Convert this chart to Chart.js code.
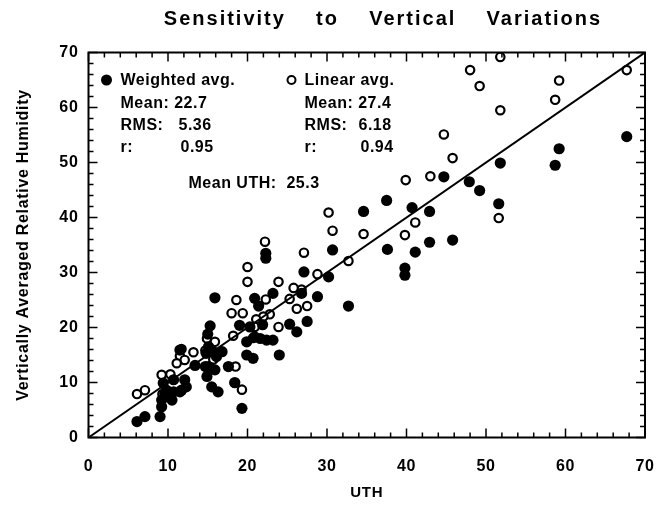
<!DOCTYPE html>
<html><head><meta charset="utf-8">
<script src="https://cdn.jsdelivr.net/npm/chart.js@4.4.1/dist/chart.umd.min.js"></script>
<style>html,body{margin:0;padding:0;background:#fff}#wrap{width:659px;height:506px}</style>
</head><body><div id="wrap"><canvas id="c" width="659" height="506"></canvas></div>
<script>
// UTH (x) and vertically averaged RH (y) — weighted average (filled circles)
const weightedUTH = [67.7,59.2,51.8,58.7,44.7,47.9,49.2,37.5,34.6,40.7,42.9,51.6,42.9,45.8,30.7,37.6,41.1,27.1,30.2,39.8,39.8,26.8,28.8,32.7,27.5,22.3,22.3,23.2,20.9,15.9,21.4,25.3,26.2,24.0,19.9,20.7,15.3,19.0,20.3,21.9,21.6,22.4,23.2,19.9,20.9,14.8,15.7,16.1,16.8,15.1,15.0,13.4,14.7,15.1,15.9,17.6,14.9,12.1,10.7,11.5,10.5,15.5,16.3,18.4,19.3,6.1,7.1,9.0,9.2,9.2,9.6,9.8,10.7,11.7,12.3,9.4,11.5];
const weightedRH  = [54.7,52.5,49.9,49.5,47.4,46.5,44.9,43.1,41.1,41.8,41.1,42.5,35.5,35.9,34.1,34.2,33.7,30.1,29.2,30.8,29.5,26.2,25.6,23.9,21.1,33.5,32.6,26.2,25.3,25.4,23.9,20.6,19.2,15.0,15.0,14.4,20.3,20.4,20.1,20.5,18.0,17.7,17.7,17.4,18.3,15.3,15.6,14.7,15.6,16.5,18.8,13.1,12.9,12.9,12.3,12.9,11.1,10.5,10.5,8.3,6.8,9.2,8.3,10.0,5.3,2.9,3.8,3.8,5.6,6.8,8.0,8.6,8.3,8.6,9.2,9.9,15.9];
// linear average (open circles)
const linearUTH = [51.8,48.0,49.2,59.2,58.7,51.8,67.7,44.7,45.8,39.9,43.0,30.2,41.1,51.6,30.7,34.6,39.8,32.7,27.1,28.8,26.8,27.5,22.2,20.0,20.0,23.9,25.8,25.3,26.2,22.3,18.6,18.0,19.4,22.8,22.0,21.1,23.9,20.9,20.7,18.2,14.9,15.9,15.7,11.7,13.2,11.5,12.1,14.7,11.1,9.2,10.3,9.3,6.1,7.1,18.5,18.4,19.3];
const linearRH  = [69.2,66.8,63.9,64.9,61.4,59.5,66.8,55.1,50.8,46.8,47.5,40.9,39.1,39.9,37.6,37.0,36.8,32.1,33.6,29.7,26.9,23.9,35.6,31.0,28.3,28.3,27.2,25.2,23.4,25.1,25.0,22.6,22.6,22.4,22.0,21.5,20.1,20.1,18.1,18.5,18.0,17.4,14.2,16.1,15.5,14.8,14.1,15.8,13.5,11.4,11.5,7.9,7.9,8.6,12.9,9.9,8.7];
// 1:1 reference line
const refLine = [0, 70];
const axisTicks = [0,10,20,30,40,50,60,70];

const toPts = (xs, ys) => xs.map((x, i) => ({x, y: ys[i]}));
const FONT = 'Liberation Sans, Arial, Helvetica, sans-serif';

const decor = {
  id: 'decor',
  beforeDraw(chart) {
    chart.ctx.letterSpacing = '0.7px';
  },
  afterDraw(chart) {
    const ctx = chart.ctx;
    const xs = chart.scales.x, ys = chart.scales.y;
    const {left, right, top, bottom} = chart.chartArea;
    ctx.save();
    ctx.strokeStyle = '#000';
    ctx.lineWidth = 2;
    ctx.strokeRect(left, top, right - left, bottom - top);
    ctx.lineWidth = 1.5;
    ctx.beginPath();
    for (let v = 0; v <= 70; v += 2) {
      const L = v % 10 === 0 ? 9 : 5;
      const px = xs.getPixelForValue(v), py = ys.getPixelForValue(v);
      ctx.moveTo(px, bottom); ctx.lineTo(px, bottom - L);
      ctx.moveTo(px, top); ctx.lineTo(px, top + L);
      ctx.moveTo(left, py); ctx.lineTo(left + L, py);
      ctx.moveTo(right, py); ctx.lineTo(right - L, py);
    }
    ctx.stroke();

    // title
    ctx.letterSpacing = '2px';
    ctx.fillStyle = '#000';
    ctx.font = 'bold 20px ' + FONT;
    ctx.textAlign = 'center';
    ctx.textBaseline = 'middle';
    ctx.fillText('Sensitivity    to    Vertical    Variations', 383, 19);

    // annotation block
    ctx.letterSpacing = '0.5px';
    ctx.font = 'bold 16px ' + FONT;
    ctx.textAlign = 'left';
    const c1 = left + 32, c2 = left + 216;
    ctx.beginPath(); ctx.arc(left + 18, 80, 5.5, 0, Math.PI * 2); ctx.fill();
    ctx.beginPath(); ctx.arc(c2 - 13, 80, 4, 0, Math.PI * 2); ctx.lineWidth = 2; ctx.stroke();
    ctx.fillText('Weighted avg.', c1, 81);
    ctx.fillText('Linear avg.', c2, 81);
    ctx.fillText('Mean: 22.7', c1, 104);
    ctx.fillText('Mean: 27.4', c2, 104);
    ctx.fillText('RMS:', c1, 126);
    ctx.fillText('5.36', c1 + 58, 126);
    ctx.fillText('RMS:', c2, 126);
    ctx.fillText('6.18', c2 + 54, 126);
    ctx.fillText('r:', c1, 148);
    ctx.fillText('0.95', c1 + 60, 148);
    ctx.fillText('r:', c2, 148);
    ctx.fillText('0.94', c2 + 56, 148);
    ctx.fillText('Mean UTH:  25.3', c1 + 68, 184);
    ctx.restore();
  }
};

new Chart(document.getElementById('c'), {
  data: {
    datasets: [
      {type: 'line', data: toPts(refLine, refLine), borderColor: '#000', borderWidth: 2, pointRadius: 0, fill: false},
      {type: 'scatter', label: 'Weighted avg.', data: toPts(weightedUTH, weightedRH), backgroundColor: '#000', borderWidth: 0, pointRadius: 5.6},
      {type: 'scatter', label: 'Linear avg.', data: toPts(linearUTH, linearRH), backgroundColor: '#fff', borderColor: '#000', borderWidth: 2.2, pointRadius: 4.2}
    ]
  },
  options: {
    responsive: false, animation: false, devicePixelRatio: 1,
    layout: {padding: {top: 52.5, right: 14, bottom: 0, left: 0}},
    plugins: {legend: {display: false}, title: {display: false}, tooltip: {enabled: false}},
    scales: {
      x: {
        type: 'linear', min: 0, max: 70,
        afterBuildTicks: s => { s.ticks = axisTicks.map(v => ({value: v})); },
        afterFit: s => { s.height = 68.5; s.paddingLeft = 0; s.paddingRight = 0; },
        grid: {display: false, drawTicks: false}, border: {display: false},
        ticks: {color: '#000', padding: 19, font: {family: FONT, size: 16, weight: 'bold'}, maxRotation: 0},
        title: {display: true, text: 'UTH', color: '#000', padding: {top: 0, bottom: 4}, font: {family: FONT, size: 15, weight: 'bold'}}
      },
      y: {
        type: 'linear', min: 0, max: 70,
        afterBuildTicks: s => { s.ticks = axisTicks.map(v => ({value: v})); },
        afterFit: s => { s.width = 88.5; s.paddingTop = 0; s.paddingBottom = 0; },
        grid: {display: false, drawTicks: false}, border: {display: false},
        ticks: {color: '#000', padding: 10, font: {family: FONT, size: 16, weight: 'bold'}},
        title: {display: true, text: 'Vertically Averaged Relative Humidity', color: '#000', padding: {top: 14, bottom: 0}, font: {family: FONT, size: 16, weight: 'bold'}}
      }
    }
  },
  plugins: [decor]
});
</script>
</body></html>
